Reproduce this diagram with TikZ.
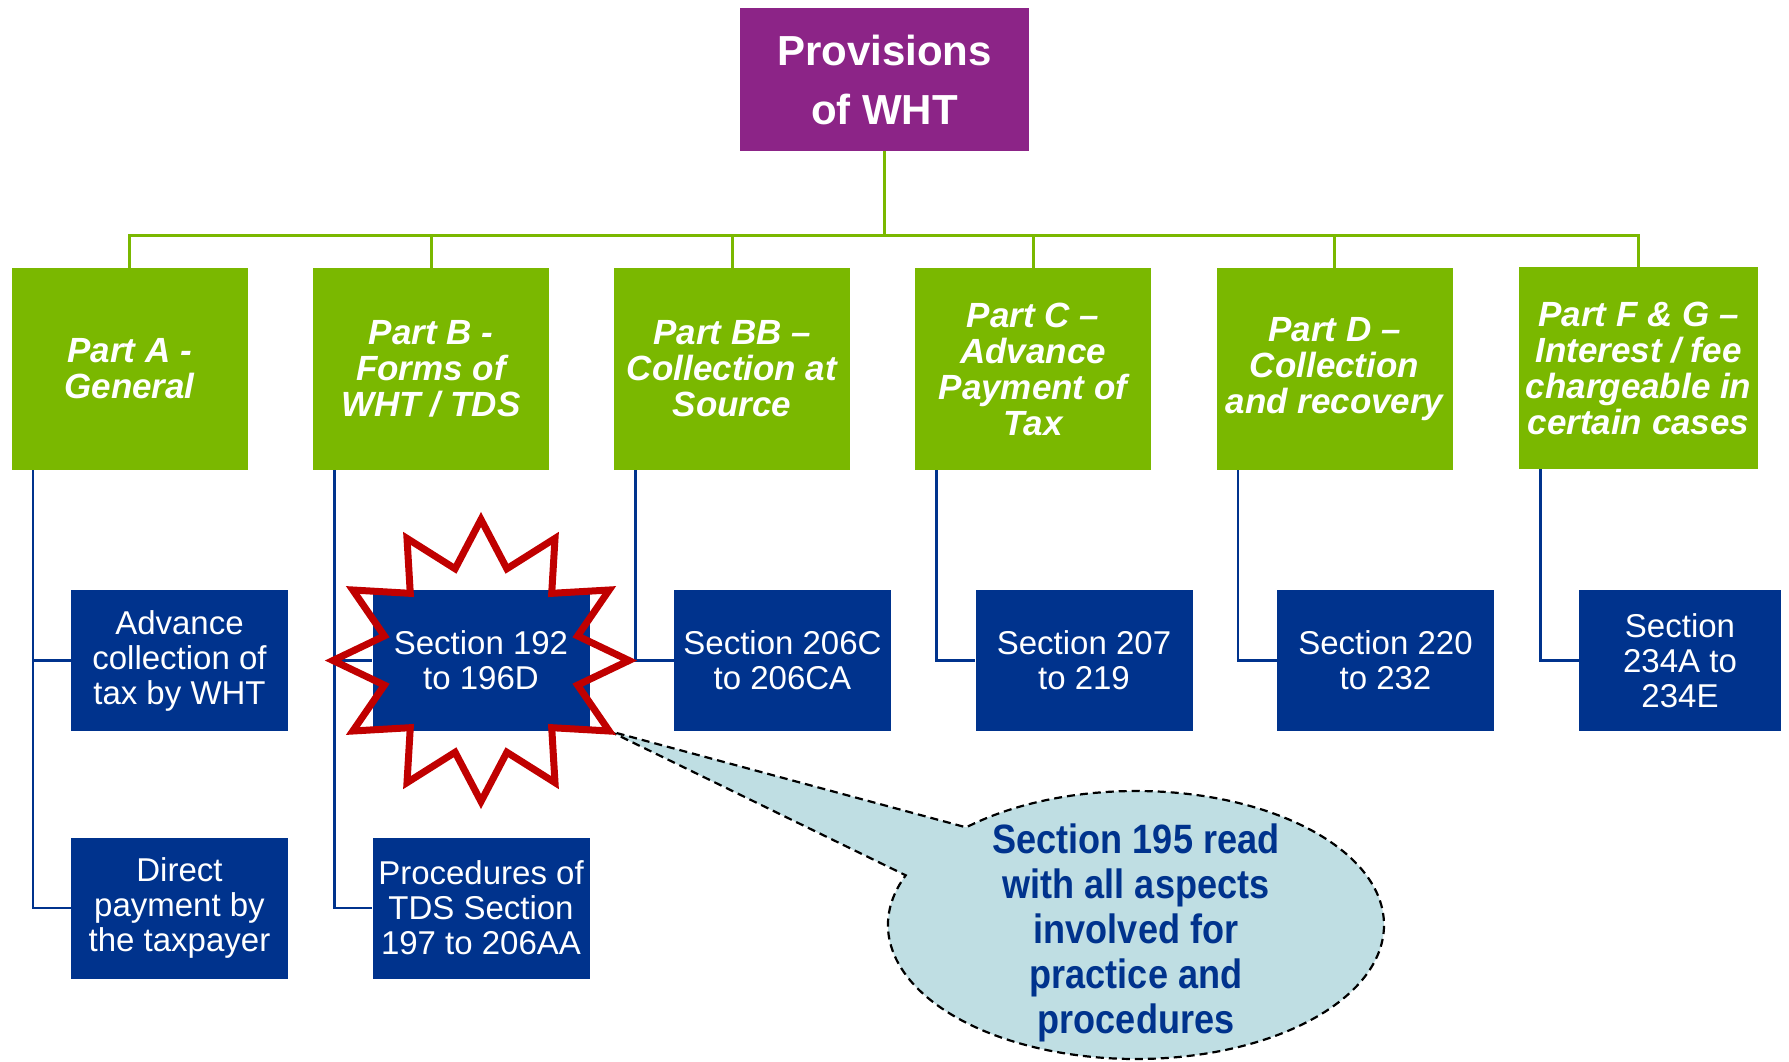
\documentclass[tikz,border=0pt]{standalone}
\usepackage{fontspec}
\setmainfont{Liberation Sans}
\newfontfamily\narrowsans{Liberation Sans}[FakeStretch=0.88]
\usetikzlibrary{calc,shapes.callouts}
\definecolor{whtpurple}{RGB}{140,36,135}
\definecolor{whtgreen}{RGB}{122,184,0}
\definecolor{whtblue}{RGB}{0,51,141}
\definecolor{whtred}{RGB}{192,0,0}
\definecolor{whtcallout}{RGB}{191,222,227}
\begin{document}
\begin{tikzpicture}[x=0.5pt,y=-0.5pt,
  headbox/.style={fill=whtpurple,text=white,minimum width=144.5pt,minimum height=71.5pt,
    inner sep=0pt,align=center,font=\bfseries\fontsize{21}{29.5}\selectfont},
  partbox/.style={fill=whtgreen,text=white,minimum width=118pt,minimum height=101pt,
    inner sep=0pt,align=center,font=\bfseries\itshape\fontsize{17.5}{18}\selectfont},
  sectbox/.style={fill=whtblue,text=white,minimum width=108.5pt,minimum height=70.5pt,
    inner sep=0pt,align=center,font=\fontsize{16.5}{17.5}\selectfont},
  busline/.style={draw=whtgreen,line width=1.5pt},
  linkline/.style={draw=whtblue,line width=1.3pt},
  burstline/.style={draw=whtred,line width=3.5pt,line join=miter},
  bubble/.style={ellipse callout,draw=black,dash pattern=on 4pt off 2.5pt,line width=1.1pt,
    fill=whtcallout,minimum width=248pt,minimum height=134pt,inner sep=0pt,callout pointer arc=25},
  bubbletext/.style={text=whtblue,align=center,font=\narrowsans\bfseries\fontsize{20.5}{22.5}\selectfont}]
  \useasboundingbox (0,0) rectangle (1789,1061);

  % top
  \node[headbox] (top) at (884.5,79.5) {Provisions\\of WHT};
  \coordinate (bus) at (884.5,235);

  % parts
  \node[partbox] (ga) at (129.5,369) {Part A -\\General};
  \node[partbox] (gb) at (431,369) {Part B -\\Forms of\\WHT / TDS};
  \node[partbox] (gbb) at (732,369) {Part BB --\\Collection at\\Source};
  \node[partbox] (gc) at (1033,369) {Part C --\\Advance\\Payment of\\Tax};
  \node[partbox] (gd) at (1334.5,369) {Part D --\\Collection\\and recovery};
  \node[partbox,minimum width=119.5pt] (gfg) at (1638.5,368) {Part F \& G --\\Interest / fee\\chargeable in\\certain cases};

  % sections
  \node[sectbox] (a1) at (179.5,660.5) {Advance\\collection of\\tax by WHT};
  \node[sectbox] (a2) at (179.5,908) {Direct\\payment by\\the taxpayer};
  \node[sectbox] (b1) at (481,660.5) {Section 192\\to 196D};
  \node[sectbox] (b2) at (481,908) {Procedures of\\TDS Section\\197 to 206AA};
  \node[sectbox] (bb1) at (782.5,660.5) {Section 206C\\to 206CA};
  \node[sectbox] (c1) at (1084,660.5) {Section 207\\to 219};
  \node[sectbox] (d1) at (1385.5,660.5) {Section 220\\to 232};
  \node[sectbox,minimum width=101pt] (fg1) at (1680,660.5) {Section\\234A to\\234E};

  % green bus
  \draw[busline]
    (top.south)
    --
    (bus);
  \draw[busline]
    (ga.north)
    --
    (ga.north |- bus)
    --
    (gfg.north |- bus)
    --
    (gfg.north);
  \draw[busline] (gb.north) -- (gb.north |- bus);
  \draw[busline] (gbb.north) -- (gbb.north |- bus);
  \draw[busline] (gc.north) -- (gc.north |- bus);
  \draw[busline] (gd.north) -- (gd.north |- bus);

  % blue links
  \coordinate (ta) at ($(ga.south west)+(22,0)$);
  \coordinate (tb) at ($(gb.south west)+(22,0)$);
  \coordinate (tbb) at ($(gbb.south west)+(22,0)$);
  \coordinate (tc) at ($(gc.south west)+(22,0)$);
  \coordinate (td) at ($(gd.south west)+(22,0)$);
  \coordinate (tfg) at ($(gfg.south west)+(22,0)$);
  \draw[linkline]
    (ta)
    |-
    (a2.west);
  \draw[linkline] (ta) |- (a1.west);
  \draw[linkline]
    (tb)
    |-
    (b2.west);
  \draw[linkline] (tb) |- (b1.west);
  \draw[linkline] (tbb) |- (bb1.west);
  \draw[linkline] (tc) |- (c1.west);
  \draw[linkline] (td) |- (d1.west);
  \draw[linkline] (tfg) |- (fg1.west);

  % callout
  \coordinate (tip) at ($(b1.center)+(30:148 and 141)$);
  \node[bubble,callout absolute pointer={(tip)}] (note) at (1136,925) {};
  \node[bubbletext] (notelabel) at ($(note.center)+(0,8)$) {Section 195 read\\with all aspects\\involved for\\practice and\\procedures};

  % star round section 192
  \draw[burstline]
    ($(b1.center)+(0:148 and 141)$)
    \foreach \a in {15,45,...,345} {
      -- ($(b1.center)+(\a:100 and 95)$)
      -- ($(b1.center)+(\a+15:148 and 141)$)
    }
    -- cycle;
\end{tikzpicture}
\end{document}
